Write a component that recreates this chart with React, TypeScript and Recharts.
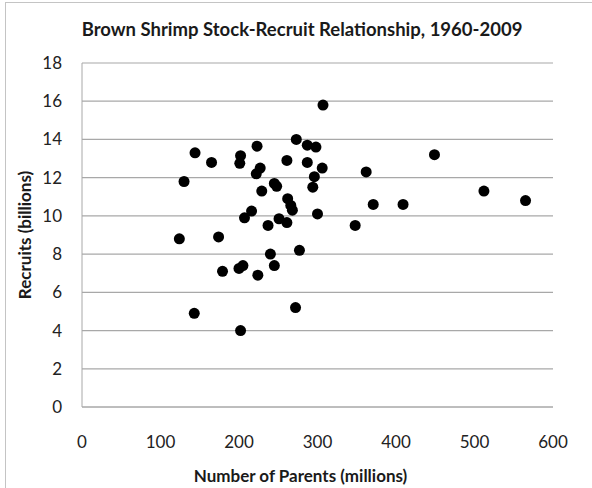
import { ScatterChart, Scatter, XAxis, YAxis, CartesianGrid, Label } from 'recharts'

const parents = [
  307, 273, 287, 298, 223, 144, 202, 165, 201, 261, 287, 306, 227, 222, 130, 296,
  245, 248, 294, 229, 262, 266, 268, 300, 216, 207, 251, 261, 237, 124, 174, 240,
  277, 245, 205, 200, 179, 224, 143, 272, 202, 449, 362, 512, 565, 371, 409, 348,
]
const recruits = [
  15.8, 14.0, 13.7, 13.6, 13.65, 13.3, 13.15, 12.8, 12.75, 12.9, 12.8, 12.5, 12.5, 12.2, 11.8, 12.05,
  11.7, 11.55, 11.5, 11.3, 10.9, 10.55, 10.3, 10.1, 10.25, 9.9, 9.85, 9.65, 9.5, 8.8, 8.9, 8.0,
  8.2, 7.4, 7.4, 7.25, 7.1, 6.9, 4.9, 5.2, 4.0, 13.2, 12.3, 11.3, 10.8, 10.6, 10.6, 9.5,
]
const xTicks = [0, 100, 200, 300, 400, 500, 600]
const yTicks = [0, 2, 4, 6, 8, 10, 12, 14, 16, 18]

const points = parents.map((p, i) => ({ x: p, y: recruits[i] }))

const font = 'Lato, "Open Sans", sans-serif'

function Dot(props: any) {
  return <circle cx={props.cx} cy={props.cy} r={5.5} fill="#000" />
}

export default function App() {
  return (
    <div style={{ position: 'absolute', left: 0, top: 0, width: 592, height: 488, background: '#fff', fontFamily: font }}>
      <div style={{ position: 'absolute', left: 5, top: 2, right: 0, bottom: 0, borderLeft: '1px solid #c4c4c4', borderTop: '1px solid #c4c4c4' }} />
      <div style={{ position: 'absolute', left: 0, width: 604, top: 18, textAlign: 'center', fontSize: 18.5, fontWeight: 700, color: '#1a1a1a' }}>
        Brown Shrimp Stock-Recruit Relationship, 1960-2009
      </div>
      <ScatterChart width={592} height={488} margin={{ top: 63, right: 39, bottom: 51, left: 0 }} style={{ position: 'absolute', left: 0, top: 0 }}>
        <CartesianGrid vertical={false} stroke="#a8a8a8" strokeWidth={1.2} />
        <XAxis
          type="number"
          dataKey="x"
          domain={[0, 600]}
          ticks={xTicks}
          interval={0}
          stroke="#a8a8a8"
          tickLine={false}
          tickMargin={23}
          tick={{ fontSize: 17, fill: '#222', fontFamily: font }}
        >
          <Label value="Number of Parents (millions)" position="bottom" offset={33} dx={-17} style={{ fontSize: 17, fontWeight: 700, fill: '#1a1a1a', fontFamily: font }} />
        </XAxis>
        <YAxis
          type="number"
          dataKey="y"
          domain={[0, 18]}
          ticks={yTicks}
          interval={0}
          width={82}
          stroke="#a8a8a8"
          tickLine={false}
          tickMargin={14}
          tick={{ fontSize: 17, fill: '#222', fontFamily: font }}
        >
          <Label value="Recruits (billions)" angle={-90} position="insideLeft" offset={25} style={{ textAnchor: 'middle', fontSize: 17, fontWeight: 700, fill: '#1a1a1a', fontFamily: font }} />
        </YAxis>
        <Scatter data={points} shape={Dot} isAnimationActive={false} />
      </ScatterChart>
    </div>
  )
}
